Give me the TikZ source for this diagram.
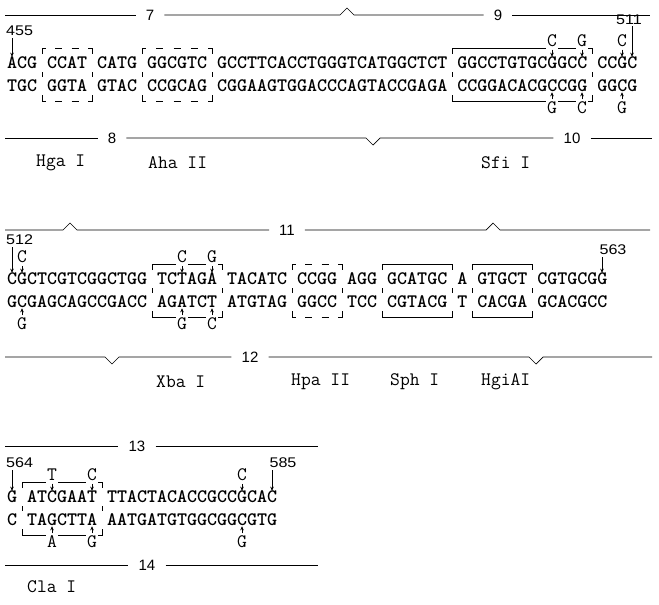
\documentclass[tikz,border=0pt]{standalone}
\usepackage{graphicx}
\usepackage{fontspec}
\newfontfamily\numfont{Liberation Sans}
\usetikzlibrary{arrows.meta}
\tikzset{
  seq/.style={anchor=west, inner sep=0pt, font=\fontsize{19.05}{22}\selectfont\ttfamily\bfseries},
  enz/.style={anchor=west, inner sep=0pt, font=\fontsize{19.05}{22}\selectfont\ttfamily},
  mut/.style={inner xsep=1pt, inner ysep=2.5pt, fill=white, font=\fontsize{19.05}{22}\selectfont\ttfamily},
  num/.style={inner sep=0pt, font=\fontsize{14}{16}\selectfont\numfont},
  lnum/.style={inner xsep=10pt, inner ysep=0pt, font=\fontsize{15}{17}\selectfont\numfont},
  ln/.style={line width=0.7pt},
  arr/.style={line width=0.6pt, -{Stealth[length=4pt,width=3.6pt]}},
  bx/.style={line width=0.7pt},
}
% solid site box: x1, x2, T (top row centre)
\newcommand\siteS[3]{%
  \draw[bx] ({#1},{#3-9}) -- ({#1},{#3-15}) -- ({#2},{#3-15}) -- ({#2},{#3-9});
  \draw[bx] ({#1},{#3+9}) -- ({#1},{#3+14});
  \draw[bx] ({#2},{#3+9}) -- ({#2},{#3+14});
  \draw[bx] ({#1},{#3+32}) -- ({#1},{#3+38}) -- ({#2},{#3+38}) -- ({#2},{#3+32});
}
% dashed site box: x1, x2, T, number of dashes
\newcommand\siteD[4]{%
  \draw[bx] ({#1},{#3-9}) -- ({#1},{#3-15}) -- ({#1+4},{#3-15});
  \draw[bx] ({#2-4},{#3-15}) -- ({#2},{#3-15}) -- ({#2},{#3-9});
  \draw[bx] ({#1},{#3+9}) -- ({#1},{#3+14});
  \draw[bx] ({#2},{#3+9}) -- ({#2},{#3+14});
  \draw[bx] ({#1},{#3+32}) -- ({#1},{#3+38}) -- ({#1+4},{#3+38});
  \draw[bx] ({#2-4},{#3+38}) -- ({#2},{#3+38}) -- ({#2},{#3+32});
  \foreach \k in {1,...,#4} {
    \pgfmathsetmacro\gp{(#2-#1-8-#4*7)/(#4+1)}
    \pgfmathsetmacro\xs{#1+4+\k*\gp+(\k-1)*7}
    \draw[bx] (\xs,{#3-15}) -- ++(7,0);
    \draw[bx] (\xs,{#3+38}) -- ++(7,0);
  }
}
% mutation above: name, x, T, letter
\newcommand\mutup[4]{%
  \node[mut] (#1) at ({#2},{#3-22}) {#4};
  \draw[arr] (#1.south) -- ({#2},{#3-6.3});
}
% mutation below: name, x, T, letter
\newcommand\mutdn[4]{%
  \node[mut] (#1) at ({#2},{#3+45}) {#4};
  \draw[arr] (#1.north) -- ({#2},{#3+29.3});
}
\newcommand\peakv[2]{-- ({#1-7},#2) -- (#1,{#2-7}) -- ({#1+7},#2)}
\newcommand\dipv[2]{-- ({#1-7},#2) -- (#1,{#2+7}) -- ({#1+7},#2)}
\newcommand\wide[1]{\scalebox{1.15}[1]{#1}}

\begin{document}
\begin{tikzpicture}[x=1pt,y=-1pt]
\useasboundingbox (0,0) rectangle (659,605);

% ================= Block 1 (T=63) =================
\node[lnum] (n7) at (150,15) {7};
\node[lnum] (n9) at (498,15) {9};
\coordinate (l7a) at (5,15);
\coordinate (l7b) at (650,15);
\draw[ln] (l7a) -- (n7);
\draw[ln] (n7) \peakv{347}{15} -- (n9);
\draw[ln] (n9) -- (l7b);

\node[num, anchor=west] (p455) at (6,31) {\wide{455}};
\node[num] (p511) at (629,20) {\wide{511}};
\coordinate (a455) at (12,38);
\coordinate (a511) at (632,26);
\draw[arr] (a455) -- (12,56.7);
\draw[arr] (a511) -- (632,56.7);

\node[seq] (r1t) at (7,63) {ACG CCAT CATG GGCGTC GCCTTCACCTGGGTCATGGCTCT GGCCTGTGCGGCC CCGC};
\node[seq] (r1b) at (7,86) {TGC GGTA GTAC CCGCAG CGGAAGTGGACCCAGTACCGAGA CCGGACACGCCGG GGCG};

\siteD{42}{92}{63}{2}
\siteD{142}{212}{63}{3}
\siteS{452}{592}{63}
\mutup{m1a}{552}{63}{C}
\mutup{m1b}{582}{63}{G}
\mutup{m1c}{622}{63}{C}
\mutdn{m1d}{552}{63}{G}
\mutdn{m1e}{582}{63}{C}
\mutdn{m1f}{622}{63}{G}

\node[lnum] (n8) at (112,138) {8};
\node[lnum] (n10) at (572,138) {10};
\coordinate (l8a) at (5,138);
\coordinate (l8b) at (652,138);
\draw[ln] (l8a) -- (n8);
\draw[ln] (n8) \dipv{373}{138} -- (n10);
\draw[ln] (n10) -- (l8b);

\node[enz] (e1) at (36,163) {Hga I};
\node[enz] (e2) at (148,163) {Aha II};
\node[enz] (e3) at (481,163) {Sfi I};

% ================= Block 2 (T=279) =================
\node[lnum] (n11) at (287,230) {11};
\coordinate (l11a) at (5,230);
\coordinate (l11b) at (650,230);
\draw[ln] (l11a) \peakv{70}{230} -- (n11);
\draw[ln] (n11) \peakv{493}{230} -- (l11b);

\node[num, anchor=west] (p512) at (6,240) {\wide{512}};
\node[num] (p563) at (613,250) {\wide{563}};
\coordinate (a512) at (12,247);
\coordinate (a563) at (602,257);
\draw[arr] (a512) -- (12,272.7);
\draw[arr] (a563) -- (602,272.7);

\node[seq] (r2t) at (7,279) {CGCTCGTCGGCTGG TCTAGA TACATC CCGG AGG GCATGC A GTGCT CGTGCGG};
\node[seq] (r2b) at (7,302) {GCGAGCAGCCGACC AGATCT ATGTAG GGCC TCC CGTACG T CACGA GCACGCC};

\siteS{152}{222}{279}
\siteD{292}{342}{279}{2}
\siteS{382}{452}{279}
\siteS{472}{532}{279}
\mutup{m2a}{22}{279}{C}
\mutup{m2b}{182}{279}{C}
\mutup{m2c}{212}{279}{G}
\mutdn{m2d}{22}{279}{G}
\mutdn{m2e}{182}{279}{G}
\mutdn{m2f}{212}{279}{C}

\node[lnum] (n12) at (250,357) {12};
\coordinate (l12a) at (5,357);
\coordinate (l12b) at (652,357);
\draw[ln] (l12a) \dipv{112}{357} -- (n12);
\draw[ln] (n12) \dipv{536}{357} -- (l12b);

\node[enz] (e4) at (156,382) {Xba I};
\node[enz] (e5) at (291,382) {Hpa II};
\node[enz] (e6) at (390,382) {Sph I};
\node[enz] (e7) at (481,382) {HgiAI};

% ================= Block 3 (T=497) =================
\node[lnum] (n13) at (137,446) {13};
\coordinate (l13a) at (5,446);
\coordinate (l13b) at (318,446);
\draw[ln] (l13a) -- (n13);
\draw[ln] (n13) -- (l13b);

\node[num, anchor=west] (p564) at (6,463) {\wide{564}};
\node[num] (p585) at (283,463) {\wide{585}};
\coordinate (a564) at (12,470);
\coordinate (a585) at (272,470);
\draw[arr] (a564) -- (12,490.7);
\draw[arr] (a585) -- (272,490.7);

\node[seq] (r3t) at (7,497) {G ATCGAAT TTACTACACCGCCGCAC};
\node[seq] (r3b) at (7,520) {C TAGCTTA AATGATGTGGCGGCGTG};

\siteS{22}{102}{497}
\mutup{m3a}{52}{497}{T}
\mutup{m3b}{92}{497}{C}
\mutup{m3c}{242}{497}{C}
\mutdn{m3d}{52}{497}{A}
\mutdn{m3e}{92}{497}{G}
\mutdn{m3f}{242}{497}{G}

\node[lnum] (n14) at (147,565) {14};
\coordinate (l14a) at (5,565);
\coordinate (l14b) at (318,565);
\draw[ln] (l14a) -- (n14);
\draw[ln] (n14) -- (l14b);

\node[enz] (e8) at (27,587) {Cla I};
\end{tikzpicture}
\end{document}
